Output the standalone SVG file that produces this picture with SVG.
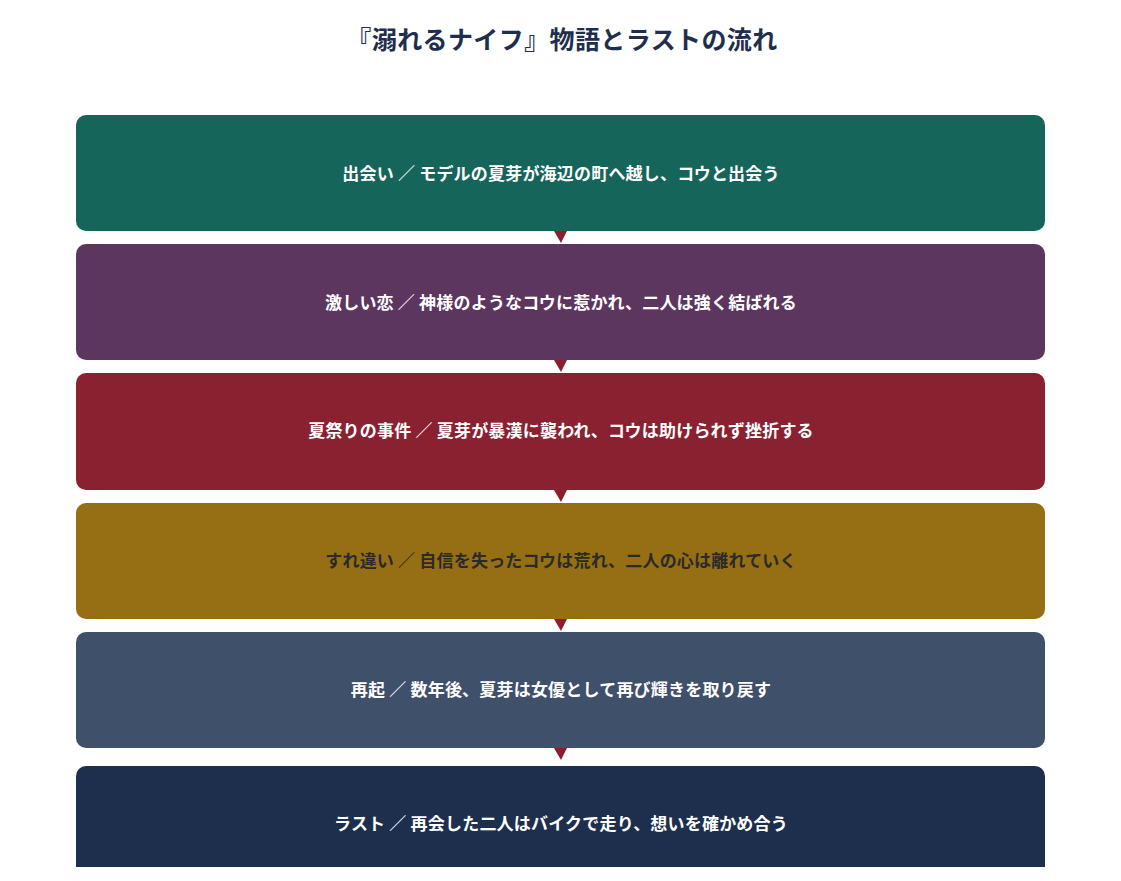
<svg xmlns="http://www.w3.org/2000/svg" width="1121" height="881" viewBox="0 0 1121 881">
<style>
.title{font-family:"Noto Sans CJK JP","Noto Sans",sans-serif;font-weight:700;font-size:25px;letter-spacing:0.4px;fill:#1e2f4d;text-anchor:middle;dominant-baseline:central}
.lbl{font-family:"Noto Sans CJK JP","Noto Sans",sans-serif;font-weight:700;font-size:17px;letter-spacing:0.2px;fill:#ffffff;text-anchor:middle;dominant-baseline:central}
.dark{fill:#2a2a2a}
.arrow{fill:#8b1e2e}
</style>
<defs>
<clipPath id="clip"><rect x="0" y="0" width="1121" height="867"/></clipPath>
</defs>
<rect width="1121" height="881" fill="#ffffff"/>
<text class="title" x="562" y="38">『溺れるナイフ』物語とラストの流れ</text>
<g id="connectors">
<polygon class="arrow" points="554,231 567,231 561,243"/>
<polygon class="arrow" points="554,360 567,360 561,372"/>
<polygon class="arrow" points="554,490 567,490 561,502"/>
<polygon class="arrow" points="554,619 567,619 561,631"/>
<polygon class="arrow" points="554,748 567,748 561,760"/>
</g>
<g id="node1"><rect x="76" y="115" width="969" height="116" rx="10" fill="#16655a"/><text class="lbl" x="561" y="172">出会い ／ モデルの夏芽が海辺の町へ越し、コウと出会う</text></g>
<g id="node2"><rect x="76" y="244" width="969" height="116" rx="10" fill="#5c365f"/><text class="lbl" x="561" y="301">激しい恋 ／ 神様のようなコウに惹かれ、二人は強く結ばれる</text></g>
<g id="node3"><rect x="76" y="373" width="969" height="117" rx="10" fill="#8a2131"/><text class="lbl" x="561" y="429">夏祭りの事件 ／ 夏芽が暴漢に襲われ、コウは助けられず挫折する</text></g>
<g id="node4"><rect x="76" y="503" width="969" height="116" rx="10" fill="#966e13"/><text class="lbl dark" x="561" y="559">すれ違い ／ 自信を失ったコウは荒れ、二人の心は離れていく</text></g>
<g id="node5"><rect x="76" y="632" width="969" height="116" rx="10" fill="#3f506b"/><text class="lbl" x="561" y="688">再起 ／ 数年後、夏芽は女優として再び輝きを取り戻す</text></g>
<g id="node6" clip-path="url(#clip)"><rect x="76" y="766" width="969" height="116" rx="10" fill="#1e2f4d"/><text class="lbl" x="561" y="822">ラスト ／ 再会した二人はバイクで走り、想いを確かめ合う</text></g>
</svg>
